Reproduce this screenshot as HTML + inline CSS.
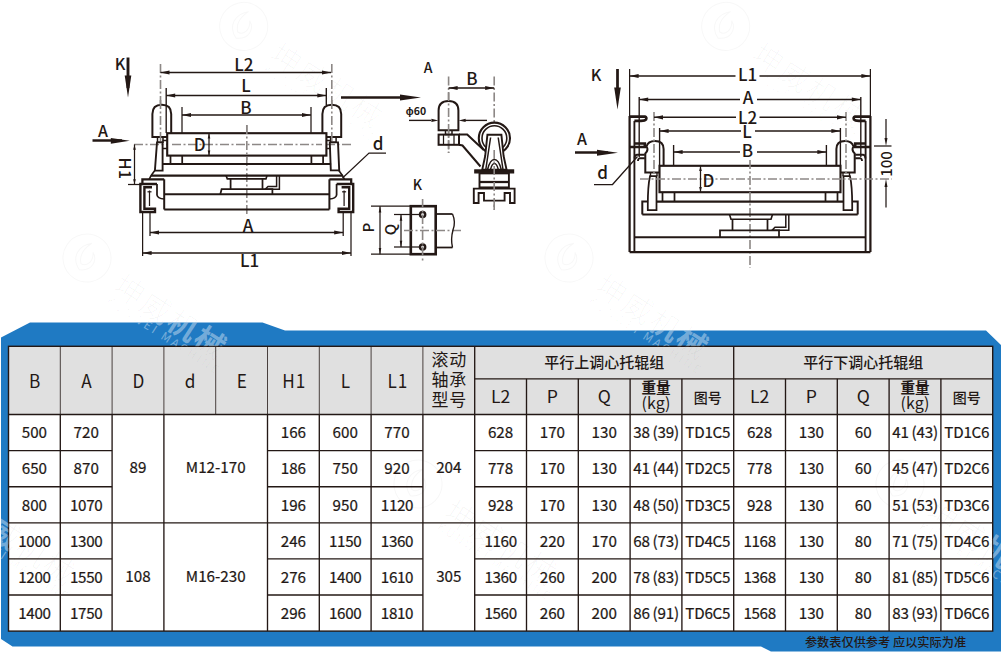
<!DOCTYPE html>
<html lang="zh-CN"><head><meta charset="utf-8"><title>平行调心托辊组 参数表</title>
<style>html,body{margin:0;padding:0;background:#fff}body{width:1001px;height:672px;overflow:hidden;position:relative}svg{position:absolute;left:0;top:0;display:block}text{white-space:pre}</style>
</head><body>
<svg width="1001" height="672" viewBox="0 0 1001 672">
<g><g transform="translate(243.7 26.4) rotate(33)" fill="#000" fill-opacity="0.032" stroke="#000" stroke-opacity="0.032" font-family='"Noto Sans CJK SC", "Liberation Sans", sans-serif'>
<circle r="24" fill="none" stroke-width="1"/>
<path d="M-4,-15 C-14,-6 -14,8 0,14 C12,8 10,-4 2,-8 C8,0 4,8 -2,8 C-8,2 -8,-6 -4,-15 Z" fill="none" stroke-width="1"/>
<text x="38" y="15" font-size="30" font-weight="300" letter-spacing="2" stroke="none">坤威机械</text>
<text x="40" y="27.5" font-size="11.5" font-weight="400" letter-spacing="2.6" stroke="none">KUNWEI MACHINE</text>
</g></g>
<g><g transform="translate(725.7 26.4) rotate(33)" fill="#000" fill-opacity="0.032" stroke="#000" stroke-opacity="0.032" font-family='"Noto Sans CJK SC", "Liberation Sans", sans-serif'>
<circle r="24" fill="none" stroke-width="1"/>
<path d="M-4,-15 C-14,-6 -14,8 0,14 C12,8 10,-4 2,-8 C8,0 4,8 -2,8 C-8,2 -8,-6 -4,-15 Z" fill="none" stroke-width="1"/>
<text x="38" y="15" font-size="30" font-weight="300" letter-spacing="2" stroke="none">坤威机械</text>
<text x="40" y="27.5" font-size="11.5" font-weight="400" letter-spacing="2.6" stroke="none">KUNWEI MACHINE</text>
</g></g>
<g><g transform="translate(87 258) rotate(33)" fill="#000" fill-opacity="0.032" stroke="#000" stroke-opacity="0.032" font-family='"Noto Sans CJK SC", "Liberation Sans", sans-serif'>
<circle r="24" fill="none" stroke-width="1"/>
<path d="M-4,-15 C-14,-6 -14,8 0,14 C12,8 10,-4 2,-8 C8,0 4,8 -2,8 C-8,2 -8,-6 -4,-15 Z" fill="none" stroke-width="1"/>
<text x="38" y="15" font-size="30" font-weight="300" letter-spacing="2" stroke="none">坤威机械</text>
<text x="40" y="27.5" font-size="11.5" font-weight="400" letter-spacing="2.6" stroke="none">KUNWEI MACHINE</text>
</g></g>
<g><g transform="translate(569 258) rotate(33)" fill="#000" fill-opacity="0.032" stroke="#000" stroke-opacity="0.032" font-family='"Noto Sans CJK SC", "Liberation Sans", sans-serif'>
<circle r="24" fill="none" stroke-width="1"/>
<path d="M-4,-15 C-14,-6 -14,8 0,14 C12,8 10,-4 2,-8 C8,0 4,8 -2,8 C-8,2 -8,-6 -4,-15 Z" fill="none" stroke-width="1"/>
<text x="38" y="15" font-size="30" font-weight="300" letter-spacing="2" stroke="none">坤威机械</text>
<text x="40" y="27.5" font-size="11.5" font-weight="400" letter-spacing="2.6" stroke="none">KUNWEI MACHINE</text>
</g></g>
<polygon fill="#1f7ac3" points="30,322.5 262.5,322.5 285,330.5 986,330.5 1001,345 1001,651.5 771,651.5 761,646.5 12.5,646.5 1,639 1,337.5"/>
<rect x="8.5" y="346.3" width="984.20" height="284.80" fill="#fff"/>
<rect x="8.5" y="346.3" width="984.20" height="68.20" fill="#e0e0e0"/>
<g stroke="#231815" fill="none">
<rect x="8.5" y="346.3" width="984.20" height="284.80" stroke-width="1.4"/>
<line x1="60.30" y1="346.30" x2="60.30" y2="414.50" stroke-width="1.0" stroke-opacity="0.8"/>
<line x1="60.30" y1="414.50" x2="60.30" y2="631.10" stroke-width="1.35"/>
<line x1="112.10" y1="346.30" x2="112.10" y2="414.50" stroke-width="1.0" stroke-opacity="0.8"/>
<line x1="112.10" y1="414.50" x2="112.10" y2="631.10" stroke-width="1.35"/>
<line x1="163.90" y1="346.30" x2="163.90" y2="414.50" stroke-width="1.0" stroke-opacity="0.8"/>
<line x1="163.90" y1="414.50" x2="163.90" y2="631.10" stroke-width="1.35"/>
<line x1="215.70" y1="346.30" x2="215.70" y2="414.50" stroke-width="0.8"/>
<line x1="267.50" y1="346.30" x2="267.50" y2="414.50" stroke-width="1.0" stroke-opacity="0.8"/>
<line x1="267.50" y1="414.50" x2="267.50" y2="631.10" stroke-width="1.35"/>
<line x1="319.30" y1="346.30" x2="319.30" y2="414.50" stroke-width="1.0" stroke-opacity="0.8"/>
<line x1="319.30" y1="414.50" x2="319.30" y2="631.10" stroke-width="1.35"/>
<line x1="371.10" y1="346.30" x2="371.10" y2="414.50" stroke-width="1.0" stroke-opacity="0.8"/>
<line x1="371.10" y1="414.50" x2="371.10" y2="631.10" stroke-width="1.35"/>
<line x1="422.90" y1="346.30" x2="422.90" y2="414.50" stroke-width="1.0" stroke-opacity="0.8"/>
<line x1="422.90" y1="414.50" x2="422.90" y2="631.10" stroke-width="1.35"/>
<line x1="474.70" y1="346.30" x2="474.70" y2="631.10" stroke-width="1.35"/>
<line x1="733.70" y1="346.30" x2="733.70" y2="631.10" stroke-width="1.35"/>
<line x1="526.50" y1="378.80" x2="526.50" y2="631.10" stroke-width="1.35"/>
<line x1="578.30" y1="378.80" x2="578.30" y2="631.10" stroke-width="1.35"/>
<line x1="630.10" y1="378.80" x2="630.10" y2="631.10" stroke-width="1.35"/>
<line x1="681.90" y1="378.80" x2="681.90" y2="631.10" stroke-width="1.35"/>
<line x1="785.50" y1="378.80" x2="785.50" y2="631.10" stroke-width="1.35"/>
<line x1="837.30" y1="378.80" x2="837.30" y2="631.10" stroke-width="1.35"/>
<line x1="889.10" y1="378.80" x2="889.10" y2="631.10" stroke-width="1.35"/>
<line x1="940.90" y1="378.80" x2="940.90" y2="631.10" stroke-width="1.35"/>
<line x1="474.70" y1="378.80" x2="992.70" y2="378.80" stroke-width="1.35"/>
<line x1="8.50" y1="414.50" x2="992.70" y2="414.50" stroke-width="1.6"/>
<line x1="8.50" y1="450.60" x2="112.10" y2="450.60" stroke-width="1.35"/>
<line x1="267.50" y1="450.60" x2="422.90" y2="450.60" stroke-width="1.35"/>
<line x1="474.70" y1="450.60" x2="992.70" y2="450.60" stroke-width="1.35"/>
<line x1="8.50" y1="486.70" x2="112.10" y2="486.70" stroke-width="1.35"/>
<line x1="267.50" y1="486.70" x2="422.90" y2="486.70" stroke-width="1.35"/>
<line x1="474.70" y1="486.70" x2="992.70" y2="486.70" stroke-width="1.35"/>
<line x1="8.50" y1="522.80" x2="992.70" y2="522.80" stroke-width="1.35"/>
<line x1="8.50" y1="558.90" x2="112.10" y2="558.90" stroke-width="1.35"/>
<line x1="267.50" y1="558.90" x2="422.90" y2="558.90" stroke-width="1.35"/>
<line x1="474.70" y1="558.90" x2="992.70" y2="558.90" stroke-width="1.35"/>
<line x1="8.50" y1="595.00" x2="112.10" y2="595.00" stroke-width="1.35"/>
<line x1="267.50" y1="595.00" x2="422.90" y2="595.00" stroke-width="1.35"/>
<line x1="474.70" y1="595.00" x2="992.70" y2="595.00" stroke-width="1.35"/>
</g>
<g fill="#231815" font-family='"Noto Sans CJK SC", "Liberation Sans", sans-serif'>
<text transform="translate(34.70 388.00) scale(0.93 1)" font-size="18.5" text-anchor="middle" letter-spacing="0">B</text>
<text transform="translate(86.50 388.00) scale(0.93 1)" font-size="18.5" text-anchor="middle" letter-spacing="0">A</text>
<text transform="translate(138.30 388.00) scale(0.93 1)" font-size="18.5" text-anchor="middle" letter-spacing="0">D</text>
<text transform="translate(190.10 388.00) scale(0.93 1)" font-size="18.5" text-anchor="middle" letter-spacing="0">d</text>
<text transform="translate(241.90 388.00) scale(0.93 1)" font-size="18.5" text-anchor="middle" letter-spacing="0">E</text>
<text transform="translate(294.20 388.00) scale(0.93 1)" font-size="18.5" text-anchor="middle" letter-spacing="0.9">H1</text>
<text transform="translate(345.50 388.00) scale(0.93 1)" font-size="18.5" text-anchor="middle" letter-spacing="0">L</text>
<text transform="translate(397.80 388.00) scale(0.93 1)" font-size="18.5" text-anchor="middle" letter-spacing="0.9">L1</text>
<text x="449.20" y="366.00" font-size="17" text-anchor="middle" letter-spacing="0.6">滚动</text>
<text x="449.20" y="386.00" font-size="17" text-anchor="middle" letter-spacing="0.6">轴承</text>
<text x="449.20" y="406.00" font-size="17" text-anchor="middle" letter-spacing="0.6">型号</text>
<text x="604.20" y="368.30" font-size="15" text-anchor="middle" font-weight="500">平行上调心托辊组</text>
<text x="863.20" y="368.30" font-size="15" text-anchor="middle" font-weight="500">平行下调心托辊组</text>
<text x="500.60" y="403.15" font-size="17.6" text-anchor="middle">L2</text>
<text x="552.40" y="403.15" font-size="17.6" text-anchor="middle">P</text>
<text x="604.20" y="403.15" font-size="17.6" text-anchor="middle">Q</text>
<text x="656.00" y="393.30" font-size="14.6" text-anchor="middle" font-weight="700" letter-spacing="-0.2">重量</text>
<text x="656.00" y="408.80" font-size="16" text-anchor="middle">(kg)</text>
<text x="707.80" y="403.35" font-size="14" text-anchor="middle" font-weight="500">图号</text>
<text x="759.60" y="403.15" font-size="17.6" text-anchor="middle">L2</text>
<text x="811.40" y="403.15" font-size="17.6" text-anchor="middle">P</text>
<text x="863.20" y="403.15" font-size="17.6" text-anchor="middle">Q</text>
<text x="915.00" y="393.30" font-size="14.6" text-anchor="middle" font-weight="700" letter-spacing="-0.2">重量</text>
<text x="915.00" y="408.80" font-size="16" text-anchor="middle">(kg)</text>
<text x="966.80" y="403.35" font-size="14" text-anchor="middle" font-weight="500">图号</text>
<g font-size="15.2" text-anchor="middle" stroke="#231815" stroke-width="0.22">
<text x="34.40" y="438.35">500</text>
<text x="86.20" y="438.35">720</text>
<text x="293.40" y="438.35">166</text>
<text x="345.20" y="438.35">600</text>
<text x="397.00" y="438.35">770</text>
<text x="500.60" y="438.35">628</text>
<text x="552.40" y="438.35">170</text>
<text x="604.20" y="438.35">130</text>
<text x="656.00" y="438.35" letter-spacing="-0.2">38&#8201;(39)</text>
<text x="707.80" y="438.35" letter-spacing="-0.2">TD1C5</text>
<text x="759.60" y="438.35">628</text>
<text x="811.40" y="438.35">130</text>
<text x="863.20" y="438.35">60</text>
<text x="915.00" y="438.35" letter-spacing="-0.2">41&#8201;(43)</text>
<text x="966.80" y="438.35" letter-spacing="-0.2">TD1C6</text>
<text x="34.40" y="474.45">650</text>
<text x="86.20" y="474.45">870</text>
<text x="293.40" y="474.45">186</text>
<text x="345.20" y="474.45">750</text>
<text x="397.00" y="474.45">920</text>
<text x="500.60" y="474.45">778</text>
<text x="552.40" y="474.45">170</text>
<text x="604.20" y="474.45">130</text>
<text x="656.00" y="474.45" letter-spacing="-0.2">41&#8201;(44)</text>
<text x="707.80" y="474.45" letter-spacing="-0.2">TD2C5</text>
<text x="759.60" y="474.45">778</text>
<text x="811.40" y="474.45">130</text>
<text x="863.20" y="474.45">60</text>
<text x="915.00" y="474.45" letter-spacing="-0.2">45&#8201;(47)</text>
<text x="966.80" y="474.45" letter-spacing="-0.2">TD2C6</text>
<text x="34.40" y="510.55">800</text>
<text x="86.20" y="510.55" letter-spacing="-0.35">1070</text>
<text x="293.40" y="510.55">196</text>
<text x="345.20" y="510.55">950</text>
<text x="397.00" y="510.55" letter-spacing="-0.35">1120</text>
<text x="500.60" y="510.55">928</text>
<text x="552.40" y="510.55">170</text>
<text x="604.20" y="510.55">130</text>
<text x="656.00" y="510.55" letter-spacing="-0.2">48&#8201;(50)</text>
<text x="707.80" y="510.55" letter-spacing="-0.2">TD3C5</text>
<text x="759.60" y="510.55">928</text>
<text x="811.40" y="510.55">130</text>
<text x="863.20" y="510.55">60</text>
<text x="915.00" y="510.55" letter-spacing="-0.2">51&#8201;(53)</text>
<text x="966.80" y="510.55" letter-spacing="-0.2">TD3C6</text>
<text x="34.40" y="546.65" letter-spacing="-0.35">1000</text>
<text x="86.20" y="546.65" letter-spacing="-0.35">1300</text>
<text x="293.40" y="546.65">246</text>
<text x="345.20" y="546.65" letter-spacing="-0.35">1150</text>
<text x="397.00" y="546.65" letter-spacing="-0.35">1360</text>
<text x="500.60" y="546.65" letter-spacing="-0.35">1160</text>
<text x="552.40" y="546.65">220</text>
<text x="604.20" y="546.65">170</text>
<text x="656.00" y="546.65" letter-spacing="-0.2">68&#8201;(73)</text>
<text x="707.80" y="546.65" letter-spacing="-0.2">TD4C5</text>
<text x="759.60" y="546.65" letter-spacing="-0.35">1168</text>
<text x="811.40" y="546.65">130</text>
<text x="863.20" y="546.65">80</text>
<text x="915.00" y="546.65" letter-spacing="-0.2">71&#8201;(75)</text>
<text x="966.80" y="546.65" letter-spacing="-0.2">TD4C6</text>
<text x="34.40" y="582.75" letter-spacing="-0.35">1200</text>
<text x="86.20" y="582.75" letter-spacing="-0.35">1550</text>
<text x="293.40" y="582.75">276</text>
<text x="345.20" y="582.75" letter-spacing="-0.35">1400</text>
<text x="397.00" y="582.75" letter-spacing="-0.35">1610</text>
<text x="500.60" y="582.75" letter-spacing="-0.35">1360</text>
<text x="552.40" y="582.75">260</text>
<text x="604.20" y="582.75">200</text>
<text x="656.00" y="582.75" letter-spacing="-0.2">78&#8201;(83)</text>
<text x="707.80" y="582.75" letter-spacing="-0.2">TD5C5</text>
<text x="759.60" y="582.75" letter-spacing="-0.35">1368</text>
<text x="811.40" y="582.75">130</text>
<text x="863.20" y="582.75">80</text>
<text x="915.00" y="582.75" letter-spacing="-0.2">81&#8201;(85)</text>
<text x="966.80" y="582.75" letter-spacing="-0.2">TD5C6</text>
<text x="34.40" y="618.85" letter-spacing="-0.35">1400</text>
<text x="86.20" y="618.85" letter-spacing="-0.35">1750</text>
<text x="293.40" y="618.85">296</text>
<text x="345.20" y="618.85" letter-spacing="-0.35">1600</text>
<text x="397.00" y="618.85" letter-spacing="-0.35">1810</text>
<text x="500.60" y="618.85" letter-spacing="-0.35">1560</text>
<text x="552.40" y="618.85">260</text>
<text x="604.20" y="618.85">200</text>
<text x="656.00" y="618.85" letter-spacing="-0.2">86&#8201;(91)</text>
<text x="707.80" y="618.85" letter-spacing="-0.2">TD6C5</text>
<text x="759.60" y="618.85" letter-spacing="-0.35">1568</text>
<text x="811.40" y="618.85">130</text>
<text x="863.20" y="618.85">80</text>
<text x="915.00" y="618.85" letter-spacing="-0.2">83&#8201;(93)</text>
<text x="966.80" y="618.85" letter-spacing="-0.2">TD6C6</text>
<text x="138.00" y="473.25">89</text>
<text x="215.70" y="473.25">M12-170</text>
<text x="448.80" y="473.25">204</text>
<text x="138.00" y="581.55">108</text>
<text x="215.70" y="581.55">M16-230</text>
<text x="448.80" y="581.55">305</text>
</g>
<text x="885.50" y="647.30" font-size="12.2" text-anchor="middle" font-weight="500">参数表仅供参考 应以实际为准</text>
</g>
<clipPath id="bandclip"><path clip-rule="evenodd" d="M0,320 H1001 V655 H0 Z M8.5,346.3 V631.1 H992.7 V346.3 Z"/></clipPath>
<clipPath id="tblclip"><rect x="8.5" y="346.3" width="984.2" height="284.8"/></clipPath>
<clipPath id="blueclip"><polygon points="30,322.5 262.5,322.5 285,330.5 986,330.5 1001,345 1001,651.5 771,651.5 761,646.5 12.5,646.5 1,639 1,337.5"/></clipPath>
<g clip-path="url(#blueclip)">
<g clip-path="url(#bandclip)"><g transform="translate(87 258) rotate(33)" fill="#fff" fill-opacity="0.4" stroke="#fff" stroke-opacity="0.4" font-family='"Noto Sans CJK SC", "Liberation Sans", sans-serif'>
<circle r="24" fill="none" stroke-width="1"/>
<path d="M-4,-15 C-14,-6 -14,8 0,14 C12,8 10,-4 2,-8 C8,0 4,8 -2,8 C-8,2 -8,-6 -4,-15 Z" fill="none" stroke-width="1"/>
<text x="38" y="15" font-size="30" font-weight="700" letter-spacing="2" stroke="none">坤威机械</text>
<text x="40" y="27.5" font-size="11.5" font-weight="400" letter-spacing="2.6" stroke="none">KUNWEI MACHINE</text>
</g></g>
<g clip-path="url(#bandclip)"><g transform="translate(569 258) rotate(33)" fill="#fff" fill-opacity="0.4" stroke="#fff" stroke-opacity="0.4" font-family='"Noto Sans CJK SC", "Liberation Sans", sans-serif'>
<circle r="24" fill="none" stroke-width="1"/>
<path d="M-4,-15 C-14,-6 -14,8 0,14 C12,8 10,-4 2,-8 C8,0 4,8 -2,8 C-8,2 -8,-6 -4,-15 Z" fill="none" stroke-width="1"/>
<text x="38" y="15" font-size="30" font-weight="700" letter-spacing="2" stroke="none">坤威机械</text>
<text x="40" y="27.5" font-size="11.5" font-weight="400" letter-spacing="2.6" stroke="none">KUNWEI MACHINE</text>
</g></g>
<g clip-path="url(#bandclip)"><g transform="translate(-64 484) rotate(33)" fill="#fff" fill-opacity="0.4" stroke="#fff" stroke-opacity="0.4" font-family='"Noto Sans CJK SC", "Liberation Sans", sans-serif'>
<circle r="24" fill="none" stroke-width="1"/>
<path d="M-4,-15 C-14,-6 -14,8 0,14 C12,8 10,-4 2,-8 C8,0 4,8 -2,8 C-8,2 -8,-6 -4,-15 Z" fill="none" stroke-width="1"/>
<text x="38" y="15" font-size="30" font-weight="700" letter-spacing="2" stroke="none">坤威机械</text>
<text x="40" y="27.5" font-size="11.5" font-weight="400" letter-spacing="2.6" stroke="none">KUNWEI MACHINE</text>
</g></g>
<g clip-path="url(#bandclip)"><g transform="translate(418 484) rotate(33)" fill="#fff" fill-opacity="0.4" stroke="#fff" stroke-opacity="0.4" font-family='"Noto Sans CJK SC", "Liberation Sans", sans-serif'>
<circle r="24" fill="none" stroke-width="1"/>
<path d="M-4,-15 C-14,-6 -14,8 0,14 C12,8 10,-4 2,-8 C8,0 4,8 -2,8 C-8,2 -8,-6 -4,-15 Z" fill="none" stroke-width="1"/>
<text x="38" y="15" font-size="30" font-weight="700" letter-spacing="2" stroke="none">坤威机械</text>
<text x="40" y="27.5" font-size="11.5" font-weight="400" letter-spacing="2.6" stroke="none">KUNWEI MACHINE</text>
</g></g>
<g clip-path="url(#bandclip)"><g transform="translate(900 484) rotate(33)" fill="#fff" fill-opacity="0.4" stroke="#fff" stroke-opacity="0.4" font-family='"Noto Sans CJK SC", "Liberation Sans", sans-serif'>
<circle r="24" fill="none" stroke-width="1"/>
<path d="M-4,-15 C-14,-6 -14,8 0,14 C12,8 10,-4 2,-8 C8,0 4,8 -2,8 C-8,2 -8,-6 -4,-15 Z" fill="none" stroke-width="1"/>
<text x="38" y="15" font-size="30" font-weight="700" letter-spacing="2" stroke="none">坤威机械</text>
<text x="40" y="27.5" font-size="11.5" font-weight="400" letter-spacing="2.6" stroke="none">KUNWEI MACHINE</text>
</g></g>
</g>
<g clip-path="url(#tblclip)"><g transform="translate(87 258) rotate(33)" fill="#000" fill-opacity="0.035" stroke="#000" stroke-opacity="0.035" font-family='"Noto Sans CJK SC", "Liberation Sans", sans-serif'>
<circle r="24" fill="none" stroke-width="1"/>
<path d="M-4,-15 C-14,-6 -14,8 0,14 C12,8 10,-4 2,-8 C8,0 4,8 -2,8 C-8,2 -8,-6 -4,-15 Z" fill="none" stroke-width="1"/>
<text x="38" y="15" font-size="30" font-weight="300" letter-spacing="2" stroke="none">坤威机械</text>
<text x="40" y="27.5" font-size="11.5" font-weight="400" letter-spacing="2.6" stroke="none">KUNWEI MACHINE</text>
</g></g>
<g clip-path="url(#tblclip)"><g transform="translate(569 258) rotate(33)" fill="#000" fill-opacity="0.035" stroke="#000" stroke-opacity="0.035" font-family='"Noto Sans CJK SC", "Liberation Sans", sans-serif'>
<circle r="24" fill="none" stroke-width="1"/>
<path d="M-4,-15 C-14,-6 -14,8 0,14 C12,8 10,-4 2,-8 C8,0 4,8 -2,8 C-8,2 -8,-6 -4,-15 Z" fill="none" stroke-width="1"/>
<text x="38" y="15" font-size="30" font-weight="300" letter-spacing="2" stroke="none">坤威机械</text>
<text x="40" y="27.5" font-size="11.5" font-weight="400" letter-spacing="2.6" stroke="none">KUNWEI MACHINE</text>
</g></g>
<g clip-path="url(#tblclip)"><g transform="translate(-64 484) rotate(33)" fill="#000" fill-opacity="0.035" stroke="#000" stroke-opacity="0.035" font-family='"Noto Sans CJK SC", "Liberation Sans", sans-serif'>
<circle r="24" fill="none" stroke-width="1"/>
<path d="M-4,-15 C-14,-6 -14,8 0,14 C12,8 10,-4 2,-8 C8,0 4,8 -2,8 C-8,2 -8,-6 -4,-15 Z" fill="none" stroke-width="1"/>
<text x="38" y="15" font-size="30" font-weight="300" letter-spacing="2" stroke="none">坤威机械</text>
<text x="40" y="27.5" font-size="11.5" font-weight="400" letter-spacing="2.6" stroke="none">KUNWEI MACHINE</text>
</g></g>
<g clip-path="url(#tblclip)"><g transform="translate(418 484) rotate(33)" fill="#000" fill-opacity="0.035" stroke="#000" stroke-opacity="0.035" font-family='"Noto Sans CJK SC", "Liberation Sans", sans-serif'>
<circle r="24" fill="none" stroke-width="1"/>
<path d="M-4,-15 C-14,-6 -14,8 0,14 C12,8 10,-4 2,-8 C8,0 4,8 -2,8 C-8,2 -8,-6 -4,-15 Z" fill="none" stroke-width="1"/>
<text x="38" y="15" font-size="30" font-weight="300" letter-spacing="2" stroke="none">坤威机械</text>
<text x="40" y="27.5" font-size="11.5" font-weight="400" letter-spacing="2.6" stroke="none">KUNWEI MACHINE</text>
</g></g>
<g clip-path="url(#tblclip)"><g transform="translate(900 484) rotate(33)" fill="#000" fill-opacity="0.035" stroke="#000" stroke-opacity="0.035" font-family='"Noto Sans CJK SC", "Liberation Sans", sans-serif'>
<circle r="24" fill="none" stroke-width="1"/>
<path d="M-4,-15 C-14,-6 -14,8 0,14 C12,8 10,-4 2,-8 C8,0 4,8 -2,8 C-8,2 -8,-6 -4,-15 Z" fill="none" stroke-width="1"/>
<text x="38" y="15" font-size="30" font-weight="300" letter-spacing="2" stroke="none">坤威机械</text>
<text x="40" y="27.5" font-size="11.5" font-weight="400" letter-spacing="2.6" stroke="none">KUNWEI MACHINE</text>
</g></g>
<g stroke="#231815" fill="none" stroke-width="1.88" stroke-linejoin="miter" font-family='"Noto Sans CJK SC", "Liberation Sans", sans-serif'>
<line x1="246.8" y1="125" x2="246.8" y2="216" stroke-width="1.62" stroke="#8d8886" stroke-dasharray="9 2.5 2 2.5"/>
<line x1="134" y1="144.5" x2="352" y2="144.5" stroke-width="1.62" stroke="#8d8886" stroke-dasharray="9 2.5 2 2.5"/>
<line x1="160.5" y1="64" x2="160.5" y2="104" stroke-width="1.62" stroke="#8d8886" stroke-dasharray="9 2.5 2 2.5"/>
<line x1="331.8" y1="64" x2="331.8" y2="104" stroke-width="1.62" stroke="#8d8886" stroke-dasharray="9 2.5 2 2.5"/>
<path d="M152.4,137 V114 C152.4,107.5 155.5,104.8 161.8,104.8 C168.1,104.8 171.2,107.5 171.2,114 V137 Z" stroke-width="2.00" fill="#fff"/>
<polyline points="157.5,137 157.5,142.2 163,142.2 163,137" stroke-width="1.50"/>
<polyline points="154.8,170.6 151,175.7 149.2,179.3" stroke-width="1.62"/>
<polyline points="162.6,140.5 167.2,140.5" stroke-width="1.50"/>
<polyline points="162.6,148.5 167.2,148.5" stroke-width="1.50"/>
<polyline points="170.5,155.6 170.5,163.6" stroke-width="1.75"/>
<polyline points="182.2,155.6 182.2,163.6" stroke-width="1.75"/>
<polyline points="157,184 140.4,184 140.4,212 155,212 155,208.8 144.4,208.8 144.4,187.3 152,187.3" stroke-width="2.38"/>
<polyline points="142.4,184 142.4,179.3 164.2,179.3" stroke-width="2.25"/>
<path d="M157,184 V195 Q157.5,198.5 164.2,199" stroke-width="1.75"/>
<polyline points="149.5,190.5 149.5,206" stroke-width="1.25"/>
<line x1="147.5" y1="191.8" x2="151.5" y2="191.8" stroke-width="1.25"/>
<line x1="164.2" y1="179.3" x2="164.2" y2="209.5" stroke-width="2.00"/>
<g transform="translate(493.6,0) scale(-1,1)">
<path d="M152.4,137 V114 C152.4,107.5 155.5,104.8 161.8,104.8 C168.1,104.8 171.2,107.5 171.2,114 V137 Z" stroke-width="2.00" fill="#fff"/>
<polyline points="157.5,137 157.5,142.2 163,142.2 163,137" stroke-width="1.50"/>
<polyline points="154.8,170.6 151,175.7 149.2,179.3" stroke-width="1.62"/>
<polyline points="162.6,140.5 167.2,140.5" stroke-width="1.50"/>
<polyline points="162.6,148.5 167.2,148.5" stroke-width="1.50"/>
<polyline points="170.5,155.6 170.5,163.6" stroke-width="1.75"/>
<polyline points="182.2,155.6 182.2,163.6" stroke-width="1.75"/>
<polyline points="157,184 140.4,184 140.4,212 155,212 155,208.8 144.4,208.8 144.4,187.3 152,187.3" stroke-width="2.38"/>
<polyline points="142.4,184 142.4,179.3 164.2,179.3" stroke-width="2.25"/>
<path d="M157,184 V195 Q157.5,198.5 164.2,199" stroke-width="1.75"/>
<polyline points="149.5,190.5 149.5,206" stroke-width="1.25"/>
<line x1="147.5" y1="191.8" x2="151.5" y2="191.8" stroke-width="1.25"/>
<line x1="164.2" y1="179.3" x2="164.2" y2="209.5" stroke-width="2.00"/>
</g>
<polygon points="157,142.4 162.6,142.4 162.6,170.6 154.9,170.6" stroke-width="1.88"/>
<polygon points="329.8,142.4 338,142.4 339.2,170.4 330.8,170.4" stroke-width="1.88"/>
<line x1="160.5" y1="100" x2="160.5" y2="141" stroke-width="1.62" stroke="#8d8886" stroke-dasharray="9 2.5 2 2.5"/>
<line x1="331.8" y1="100" x2="331.8" y2="141" stroke-width="1.62" stroke="#8d8886" stroke-dasharray="9 2.5 2 2.5"/>
<rect x="167.2" y="133.2" width="159.2" height="22.4" fill="#fff" stroke-width="2.12"/>
<line x1="172" y1="144.5" x2="322" y2="144.5" stroke-width="1.62" stroke="#8d8886" stroke-dasharray="9 2.5 2 2.5"/>
<line x1="246.8" y1="125" x2="246.8" y2="160" stroke-width="1.62" stroke="#8d8886" stroke-dasharray="9 2.5 2 2.5"/>
<line x1="162.5" y1="164.1" x2="331.1" y2="164.1" stroke-width="2.00"/>
<line x1="151" y1="175.6" x2="342.6" y2="175.6" stroke-width="2.25"/>
<line x1="164.2" y1="194.2" x2="329.40000000000003" y2="194.2" stroke-width="2.00"/>
<line x1="164.2" y1="209.5" x2="329.40000000000003" y2="209.5" stroke-width="2.12"/>
<polyline points="226.1,175.6 227.3,178.9 266,178.9 267,175.6" stroke-width="1.62"/>
<polyline points="230.6,178.9 230.6,189.2" stroke-width="1.75"/>
<polyline points="262.5,178.9 262.5,189.2" stroke-width="1.75"/>
<polyline points="220.3,194.2 221.6,189.2 272.4,189.2 272.4,194.2" stroke-width="1.75"/>
<polyline points="279.4,175.6 279.4,189.2 265.2,189.2 268,186.5 276.6,186.5 276.6,175.6" stroke-width="1.50"/>
<line x1="209" y1="133.2" x2="209" y2="155.6" stroke-width="1.25"/>
<polygon points="209,133.4 207.7,138.4 210.3,138.4" fill="#231815" stroke="none"/>
<polygon points="209,155.4 207.7,150.4 210.3,150.4" fill="#231815" stroke="none"/>
<text x="199.8" y="151" font-size="17" text-anchor="middle" font-weight="500" stroke="none" fill="#231815">D</text>
<line x1="166.2" y1="88" x2="166.2" y2="133" stroke-width="1.38"/>
<line x1="326.3" y1="88" x2="326.3" y2="105" stroke-width="1.38"/>
<line x1="182" y1="107" x2="182" y2="133" stroke-width="1.25"/>
<line x1="311" y1="107" x2="311" y2="133" stroke-width="1.25"/>
<line x1="160.5" y1="72.5" x2="331" y2="72.5" stroke-width="1.62"/>
<polygon points="160.5,72.5 169.5,70.4 169.5,74.6" fill="#231815" stroke="none"/>
<polygon points="331,72.5 322,70.4 322,74.6" fill="#231815" stroke="none"/>
<text x="243.8" y="71" font-size="17" text-anchor="middle" font-weight="500" stroke="none" fill="#231815">L2</text>
<line x1="166.2" y1="95.5" x2="326.3" y2="95.5" stroke-width="1.62"/>
<polygon points="166.2,95.5 175.2,93.4 175.2,97.6" fill="#231815" stroke="none"/>
<polygon points="326.3,95.5 317.3,93.4 317.3,97.6" fill="#231815" stroke="none"/>
<text x="246" y="92" font-size="17" text-anchor="middle" font-weight="500" stroke="none" fill="#231815">L</text>
<line x1="182" y1="115" x2="311" y2="115" stroke-width="1.62"/>
<polygon points="182,115 191,112.9 191,117.1" fill="#231815" stroke="none"/>
<polygon points="311,115 302,112.9 302,117.1" fill="#231815" stroke="none"/>
<text x="246" y="114" font-size="17" text-anchor="middle" font-weight="500" stroke="none" fill="#231815">B</text>
<line x1="142.6" y1="212" x2="142.6" y2="256" stroke-width="1.25"/>
<line x1="351" y1="212" x2="351" y2="256" stroke-width="1.25"/>
<line x1="150" y1="212" x2="150" y2="236" stroke-width="1.25"/>
<line x1="343.2" y1="212" x2="343.2" y2="236" stroke-width="1.25"/>
<line x1="150" y1="232.5" x2="343.2" y2="232.5" stroke-width="1.62"/>
<polygon points="150,232.5 159,230.4 159,234.6" fill="#231815" stroke="none"/>
<polygon points="343.2,232.5 334.2,230.4 334.2,234.6" fill="#231815" stroke="none"/>
<text x="248" y="232" font-size="17" text-anchor="middle" font-weight="500" stroke="none" fill="#231815">A</text>
<line x1="142.6" y1="253" x2="351" y2="253" stroke-width="1.62"/>
<polygon points="142.6,253 151.6,250.9 151.6,255.1" fill="#231815" stroke="none"/>
<polygon points="351,253 342,250.9 342,255.1" fill="#231815" stroke="none"/>
<text x="249.5" y="266.5" font-size="17" text-anchor="middle" font-weight="500" stroke="none" fill="#231815">L1</text>
<line x1="134.5" y1="144.5" x2="134.5" y2="184.5" stroke-width="1.25"/>
<polygon points="134.5,144.7 133.2,149.7 135.8,149.7" fill="#231815" stroke="none"/>
<polygon points="134.5,184.3 133.2,179.3 135.8,179.3" fill="#231815" stroke="none"/>
<line x1="128" y1="184.5" x2="142" y2="184.5" stroke-width="1.25"/>
<text x="118.5" y="168.3" font-size="16.5" text-anchor="middle" font-weight="500" transform="rotate(90 118.5 168.3)" stroke="none" fill="#231815">H1</text>
<line x1="128" y1="57.5" x2="128" y2="88" stroke-width="2.88"/>
<polygon points="128,97.5 124.7,75.5 131.3,75.5" fill="#231815" stroke="none"/>
<text x="120" y="70" font-size="16" text-anchor="middle" font-weight="500" stroke="none" fill="#231815">K</text>
<line x1="92.5" y1="140.5" x2="122" y2="140.5" stroke-width="2.50"/>
<polygon points="129.8,140.8 110.80000000000001,137.9 110.80000000000001,143.70000000000002" fill="#231815" stroke="none"/>
<text x="103" y="137" font-size="16" text-anchor="middle" font-weight="500" stroke="none" fill="#231815">A</text>
<line x1="341" y1="97.5" x2="410" y2="97.5" stroke-width="2.38"/>
<polygon points="421,97.5 400,94.5 400,100.5" fill="#231815" stroke="none"/>
<polyline points="386,153 369,153 342.5,178" stroke-width="1.25"/>
<text x="378" y="150" font-size="17" text-anchor="middle" font-weight="500" stroke="none" fill="#231815">d</text>
<text x="428" y="73" font-size="14" text-anchor="middle" font-weight="500" stroke="none" fill="#231815">A</text>
<text x="472" y="85" font-size="17" text-anchor="middle" font-weight="500" stroke="none" fill="#231815">B</text>
<line x1="448.6" y1="76.5" x2="448.6" y2="153" stroke-width="1.62" stroke="#8d8886" stroke-dasharray="9 2.5 2 2.5"/>
<line x1="494.2" y1="76.5" x2="494.2" y2="210" stroke-width="1.62" stroke="#8d8886" stroke-dasharray="9 2.5 2 2.5"/>
<line x1="448.6" y1="88" x2="494.2" y2="88" stroke-width="1.62"/>
<polygon points="448.6,88 457.6,85.9 457.6,90.1" fill="#231815" stroke="none"/>
<polygon points="494.2,88 485.2,85.9 485.2,90.1" fill="#231815" stroke="none"/>
<text x="416" y="114.5" font-size="10.5" text-anchor="middle" font-weight="700" stroke="none" fill="#231815">ϕ60</text>
<line x1="409" y1="120.4" x2="431" y2="120.4" stroke-width="1.38"/>
<polygon points="438.4,120.4 431.4,118.80000000000001 431.4,122.0" fill="#231815" stroke="none"/>
<line x1="465" y1="120.4" x2="487" y2="120.4" stroke-width="1.38"/>
<polygon points="458.6,120.4 465.6,118.80000000000001 465.6,122.0" fill="#231815" stroke="none"/>
<path d="M438.6,130.2 V110.5 C438.6,103.5 442,101 448.5,101 C455,101 458.4,103.5 458.4,110.5 V130.2 Z" stroke-width="2.00" fill="#fff"/>
<line x1="448.6" y1="92" x2="448.6" y2="153" stroke-width="1.62" stroke="#8d8886" stroke-dasharray="9 2.5 2 2.5"/>
<polyline points="445.5,130.2 445.5,134.6 452,134.6 452,130.2" stroke-width="1.50"/>
<rect x="438.6" y="134.6" width="20.4" height="10.2" stroke-width="2.0"/>
<line x1="443.5" y1="134.6" x2="443.5" y2="144.8" stroke-width="1.25"/>
<line x1="454" y1="134.6" x2="454" y2="144.8" stroke-width="1.25"/>
<polyline points="459,134.6 467.2,134.6 483.5,149.8" stroke-width="2.00"/>
<polyline points="459,144.8 462.5,145.5 480.5,166.5" stroke-width="2.00"/>
<circle cx="494.4" cy="138.2" r="15.6" fill="#fff" stroke-width="2.1"/>
<circle cx="494.4" cy="138.2" r="12.4" stroke-width="1.6"/>
<path d="M487.4,134.8 H501.4 L503.6,156 L506.6,169.8 H482.2 L485.2,156 Z" fill="#fff" stroke-width="1.9"/>
<path d="M490.6,137.5 L487.2,160 L485.8,169.5 M498.2,137.5 L501.6,160 L503,169.5" stroke-width="1.5"/>
<path d="M487.6,169.5 Q490,159.5 494.4,159.5 Q498.8,159.5 501.2,169.5 M490.5,169.5 Q492,163.5 494.4,163.5 Q496.8,163.5 498.3,169.5" stroke-width="1.5"/>
<rect x="474.8" y="169.9" width="38.8" height="3" fill="#231815" stroke-width="1.2"/>
<rect x="479.5" y="173.4" width="29.4" height="14" fill="#fff" stroke-width="1.9"/>
<line x1="479.5" y1="182" x2="508.9" y2="182" stroke-width="2.25"/>
<polygon points="473.8,203 473.8,188.6 514.6,188.6 514.6,203 510,203 510,193 504.6,193 504.6,200.6 484,200.6 484,193 478.6,193 478.6,203" stroke-width="1.88" fill="#fff"/>
<line x1="494.2" y1="150" x2="494.2" y2="210" stroke-width="1.62" stroke="#8d8886" stroke-dasharray="9 2.5 2 2.5"/>
<text x="417.5" y="189.5" font-size="14" text-anchor="middle" font-weight="500" stroke="none" fill="#231815">K</text>
<rect x="410.8" y="206.2" width="24.9" height="48" fill="#fff" stroke-width="2.62"/>
<circle cx="422.6" cy="214.5" r="2.7" stroke-width="2.25" fill="#cfcdcc"/>
<circle cx="422.6" cy="247" r="2.7" stroke-width="2.25" fill="#cfcdcc"/>
<line x1="422.6" y1="199" x2="422.6" y2="261" stroke-width="1.62" stroke="#8d8886" stroke-dasharray="9 2.5 2 2.5"/>
<line x1="404" y1="230.5" x2="461" y2="230.5" stroke-width="1.62" stroke="#8d8886" stroke-dasharray="9 2.5 2 2.5"/>
<line x1="435.5" y1="214" x2="452.5" y2="214" stroke-width="1.75"/>
<line x1="435.5" y1="247.5" x2="452.5" y2="247.5" stroke-width="1.75"/>
<path d="M452.5,214 Q456,222 453,230 Q450.5,239 452.5,247.5" stroke-width="1.38"/>
<line x1="371" y1="206.2" x2="410" y2="206.2" stroke-width="1.25"/>
<line x1="371" y1="254.2" x2="410" y2="254.2" stroke-width="1.25"/>
<line x1="380" y1="206.2" x2="380" y2="254.2" stroke-width="1.25"/>
<polygon points="380,206.4 378.7,212.4 381.3,212.4" fill="#231815" stroke="none"/>
<polygon points="380,254 378.7,248 381.3,248" fill="#231815" stroke="none"/>
<text x="373.5" y="227.5" font-size="15" text-anchor="middle" font-weight="500" transform="rotate(-90 373.5 227.5)" stroke="none" fill="#231815">P</text>
<line x1="394" y1="214.5" x2="419" y2="214.5" stroke-width="1.25"/>
<line x1="394" y1="247" x2="419" y2="247" stroke-width="1.25"/>
<line x1="401" y1="214.5" x2="401" y2="247" stroke-width="1.25"/>
<polygon points="401,214.7 399.7,220.7 402.3,220.7" fill="#231815" stroke="none"/>
<polygon points="401,246.8 399.7,240.8 402.3,240.8" fill="#231815" stroke="none"/>
<text x="395.5" y="229.5" font-size="15" text-anchor="middle" font-weight="500" transform="rotate(-90 395.5 229.5)" stroke="none" fill="#231815">Q</text>
<polyline points="629.6,69 629.6,116" stroke-width="1.25"/>
<polyline points="629.6,116 629.6,252" stroke-width="2.25"/>
<polyline points="634.4,120.9 634.4,252" stroke-width="1.88"/>
<path d="M629.6,116.7 H645 Q647,117.2 646,119.5 Q645,120.9 641,120.9 H634.4" stroke-width="2.75"/>
<path d="M634.4,143.5 H644.8 V147 H629.6" stroke-width="2.62"/>
<path d="M644.8,154.8 H636.8 Q634.6,155 634.6,158.5 M644.8,158.3 H639.4 Q638,158.6 638,161" stroke-width="1.88"/>
<path d="M645.3,172.4 V153.5 Q649,150 646.5,146.5 Q648,141 655,141 Q663.6,141 663.6,149 V172.4 Z" stroke-width="2.00" fill="#fff"/>
<path d="M650,176.2 H656.5 V210 H647.8 V205 Q647.8,186 650,176.2 Z" stroke-width="1.75"/>
<polyline points="650.5,172.4 650.5,176.2" stroke-width="1.38"/>
<polyline points="657,172.4 657,176.2" stroke-width="1.38"/>
<line x1="662.5" y1="192" x2="662.5" y2="201.5" stroke-width="1.75"/>
<line x1="674.5" y1="192" x2="674.5" y2="201.5" stroke-width="1.75"/>
<polyline points="647.8,201.6 642.3,201.6 642.3,214.6" stroke-width="2.00"/>
<g transform="translate(1500,0) scale(-1,1)">
<polyline points="629.6,69 629.6,116" stroke-width="1.25"/>
<polyline points="629.6,116 629.6,252" stroke-width="2.25"/>
<polyline points="634.4,120.9 634.4,252" stroke-width="1.88"/>
<path d="M629.6,116.7 H645 Q647,117.2 646,119.5 Q645,120.9 641,120.9 H634.4" stroke-width="2.75"/>
<path d="M634.4,143.5 H644.8 V147 H629.6" stroke-width="2.62"/>
<path d="M644.8,154.8 H636.8 Q634.6,155 634.6,158.5 M644.8,158.3 H639.4 Q638,158.6 638,161" stroke-width="1.88"/>
<path d="M645.3,172.4 V153.5 Q649,150 646.5,146.5 Q648,141 655,141 Q663.6,141 663.6,149 V172.4 Z" stroke-width="2.00" fill="#fff"/>
<path d="M650,176.2 H656.5 V210 H647.8 V205 Q647.8,186 650,176.2 Z" stroke-width="1.75"/>
<polyline points="650.5,172.4 650.5,176.2" stroke-width="1.38"/>
<polyline points="657,172.4 657,176.2" stroke-width="1.38"/>
<line x1="662.5" y1="192" x2="662.5" y2="201.5" stroke-width="1.75"/>
<line x1="674.5" y1="192" x2="674.5" y2="201.5" stroke-width="1.75"/>
<polyline points="647.8,201.6 642.3,201.6 642.3,214.6" stroke-width="2.00"/>
</g>
<rect x="659.5" y="165.8" width="181.0" height="26.4" fill="#fff" stroke-width="2.12"/>
<line x1="640" y1="179" x2="892" y2="179" stroke-width="1.62" stroke="#8d8886" stroke-dasharray="9 2.5 2 2.5"/>
<line x1="750" y1="160" x2="750" y2="268" stroke-width="1.62" stroke="#8d8886" stroke-dasharray="9 2.5 2 2.5"/>
<line x1="656.5" y1="201.6" x2="843.5" y2="201.6" stroke-width="2.25"/>
<line x1="642.3" y1="214.6" x2="857.7" y2="214.6" stroke-width="2.00"/>
<line x1="634.4" y1="237.3" x2="865.6" y2="237.3" stroke-width="2.00"/>
<line x1="629.6" y1="252" x2="870.4" y2="252" stroke-width="2.25"/>
<polyline points="729.5,214.6 731,219.3 771,219.3 772.5,214.6" stroke-width="1.62"/>
<line x1="732.5" y1="219.3" x2="732.5" y2="230" stroke-width="1.75"/>
<line x1="767.5" y1="219.3" x2="767.5" y2="230" stroke-width="1.75"/>
<polyline points="720,237.3 720,230.3 779,230.3 779,237.3" stroke-width="1.75"/>
<polyline points="788.8,214.6 788.8,230.3 772,230.3 775,227.3 785.8,227.3 785.8,214.6" stroke-width="1.50"/>
<line x1="700.5" y1="165.8" x2="700.5" y2="192.2" stroke-width="1.25"/>
<polygon points="700.5,166 699.2,171 701.8,171" fill="#231815" stroke="none"/>
<polygon points="700.5,192 699.2,187 701.8,187" fill="#231815" stroke="none"/>
<text x="708.5" y="186.5" font-size="17" text-anchor="middle" font-weight="500" stroke="none" fill="#231815">D</text>
<line x1="639.2" y1="97" x2="639.2" y2="157" stroke-width="1.38"/>
<line x1="860.8" y1="97" x2="860.8" y2="157" stroke-width="1.38"/>
<line x1="654" y1="112" x2="654" y2="176" stroke-width="1.62" stroke="#8d8886" stroke-dasharray="9 2.5 2 2.5"/>
<line x1="846" y1="112" x2="846" y2="176" stroke-width="1.62" stroke="#8d8886" stroke-dasharray="9 2.5 2 2.5"/>
<line x1="659.6" y1="128" x2="659.6" y2="165" stroke-width="1.38"/>
<line x1="840.4" y1="128" x2="840.4" y2="165" stroke-width="1.38"/>
<line x1="673.6" y1="145" x2="673.6" y2="165" stroke-width="1.38"/>
<line x1="826.4" y1="145" x2="826.4" y2="165" stroke-width="1.38"/>
<line x1="629.6" y1="76" x2="735.5" y2="76" stroke-width="1.62"/>
<line x1="759.5" y1="76" x2="870.4" y2="76" stroke-width="1.62"/>
<polygon points="629.6,76 638.6,73.9 638.6,78.1" fill="#231815" stroke="none"/>
<polygon points="870.4,76 861.4,73.9 861.4,78.1" fill="#231815" stroke="none"/>
<text x="747.5" y="81.2" font-size="17" text-anchor="middle" font-weight="500" stroke="none" fill="#231815">L1</text>
<line x1="639.2" y1="99.5" x2="740" y2="99.5" stroke-width="1.62"/>
<line x1="757" y1="99.5" x2="860.8" y2="99.5" stroke-width="1.62"/>
<polygon points="639.2,99.5 648.2,97.4 648.2,101.6" fill="#231815" stroke="none"/>
<polygon points="860.8,99.5 851.8,97.4 851.8,101.6" fill="#231815" stroke="none"/>
<text x="748" y="104.3" font-size="17" text-anchor="middle" font-weight="500" stroke="none" fill="#231815">A</text>
<line x1="654" y1="117.3" x2="736" y2="117.3" stroke-width="1.62"/>
<line x1="759.5" y1="117.3" x2="846" y2="117.3" stroke-width="1.62"/>
<polygon points="654,117.3 663,115.2 663,119.39999999999999" fill="#231815" stroke="none"/>
<polygon points="846,117.3 837,115.2 837,119.39999999999999" fill="#231815" stroke="none"/>
<text x="747.5" y="123.5" font-size="17" text-anchor="middle" font-weight="500" stroke="none" fill="#231815">L2</text>
<line x1="659.6" y1="131" x2="741" y2="131" stroke-width="1.62"/>
<line x1="755" y1="131" x2="840.4" y2="131" stroke-width="1.62"/>
<polygon points="659.6,131 668.6,128.9 668.6,133.1" fill="#231815" stroke="none"/>
<polygon points="840.4,131 831.4,128.9 831.4,133.1" fill="#231815" stroke="none"/>
<text x="747" y="137.5" font-size="17" text-anchor="middle" font-weight="500" stroke="none" fill="#231815">L</text>
<line x1="673.6" y1="152" x2="740" y2="152" stroke-width="1.62"/>
<line x1="757" y1="152" x2="826.4" y2="152" stroke-width="1.62"/>
<polygon points="673.6,152 682.6,149.9 682.6,154.1" fill="#231815" stroke="none"/>
<polygon points="826.4,152 817.4,149.9 817.4,154.1" fill="#231815" stroke="none"/>
<text x="747.5" y="156.5" font-size="17" text-anchor="middle" font-weight="500" stroke="none" fill="#231815">B</text>
<line x1="886" y1="119" x2="886" y2="139" stroke-width="1.25"/>
<polygon points="886,146 884.5,138 887.5,138" fill="#231815" stroke="none"/>
<line x1="874" y1="146" x2="891.5" y2="146" stroke-width="1.25"/>
<polygon points="886,179 884.5,187 887.5,187" fill="#231815" stroke="none"/>
<line x1="886" y1="186" x2="886" y2="207.5" stroke-width="1.25"/>
<text x="891.5" y="164" font-size="15" text-anchor="middle" font-weight="500" transform="rotate(-90 891.5 164)" stroke="none" fill="#231815">100</text>
<line x1="617.5" y1="69" x2="617.5" y2="95" stroke-width="2.75"/>
<polygon points="617.5,109.5 614.2,87.5 620.8,87.5" fill="#231815" stroke="none"/>
<text x="596" y="80.5" font-size="16" text-anchor="middle" font-weight="500" stroke="none" fill="#231815">K</text>
<line x1="575" y1="152.5" x2="608" y2="152.5" stroke-width="2.50"/>
<polygon points="618,152.7 597,149.7 597,155.7" fill="#231815" stroke="none"/>
<text x="582" y="145" font-size="16" text-anchor="middle" font-weight="500" stroke="none" fill="#231815">A</text>
<polyline points="594,184.5 612.5,184.5 637.5,156.5" stroke-width="1.25"/>
<text x="602.5" y="178.5" font-size="17" text-anchor="middle" font-weight="500" stroke="none" fill="#231815">d</text>
</g>
</svg>
</body></html>
